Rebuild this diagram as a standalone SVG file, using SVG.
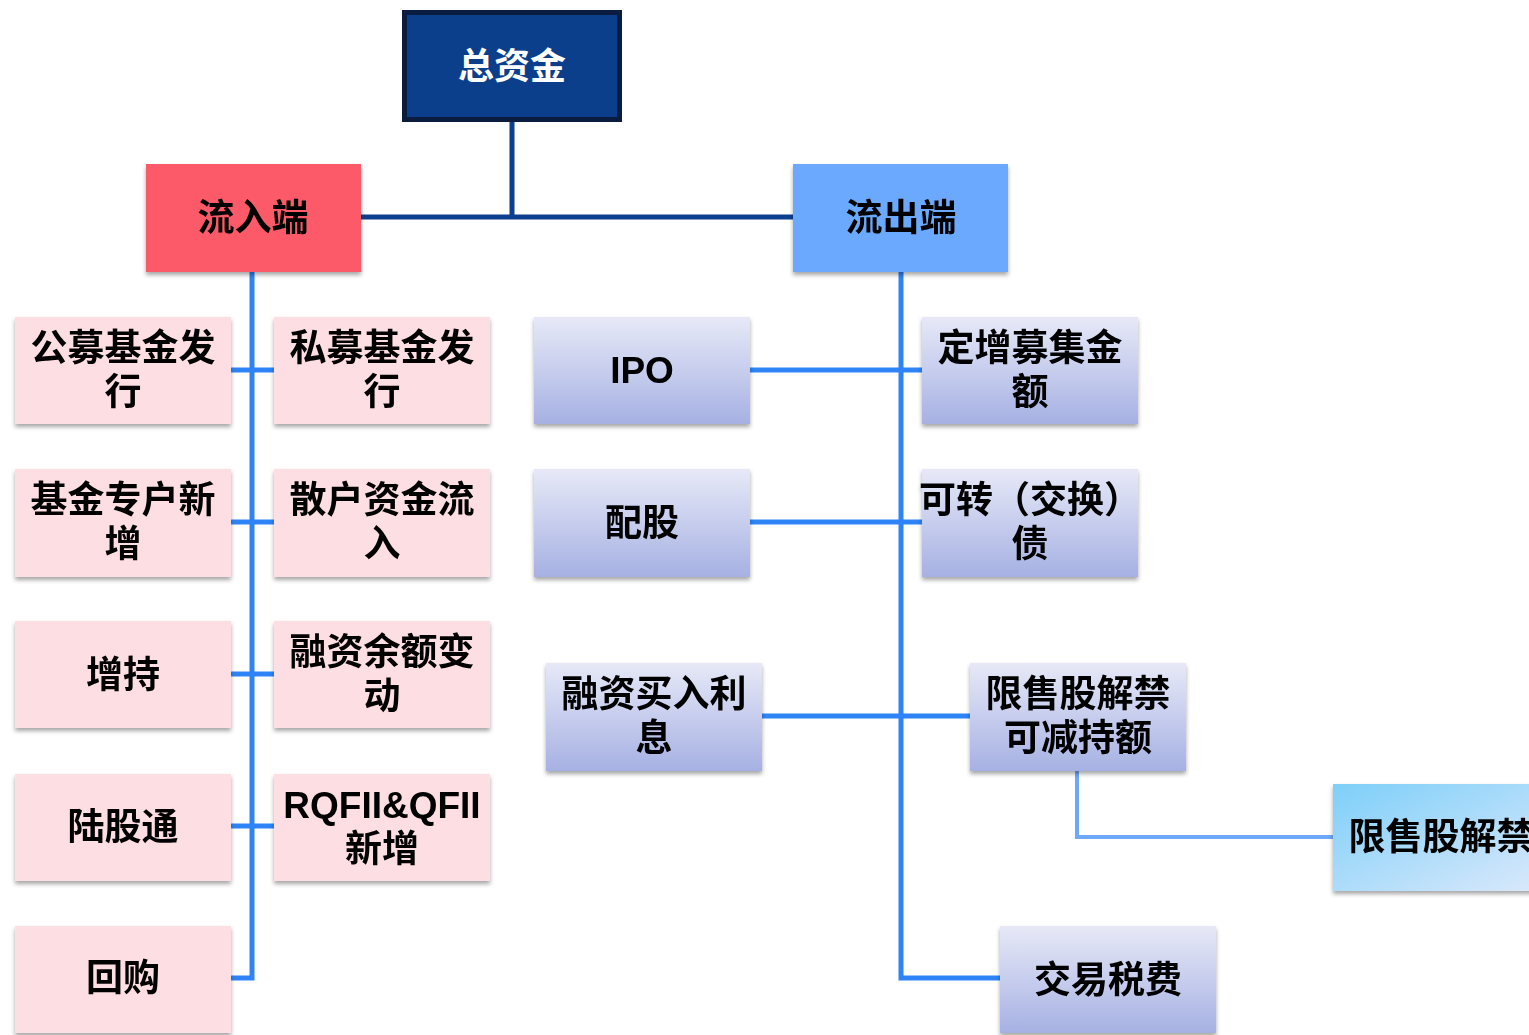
<svg xmlns="http://www.w3.org/2000/svg" width="1529" height="1035" viewBox="0 0 1529 1035">
<style>
.t{font-family:'Liberation Sans','Noto Sans CJK SC',sans-serif;font-weight:bold;font-size:37px;text-anchor:middle;fill:#000}
.w{fill:#fff;font-size:36px}
.pink{fill:#fddee2}
.lav{fill:url(#lav)}
.blue{fill:none;stroke:#2e84f6;stroke-width:5}
.navy{fill:none;stroke:#0e3f8e;stroke-width:5}
</style>
<defs>
<linearGradient id="lav" x1="0" y1="0" x2="0" y2="1">
<stop offset="0" stop-color="#e7e9f7"/>
<stop offset="1" stop-color="#a6b1e3"/>
</linearGradient>
<linearGradient id="sky" x1="0" y1="0" x2="1" y2="1">
<stop offset="0" stop-color="#7ecff9"/>
<stop offset="1" stop-color="#dce9fb"/>
</linearGradient>
<filter id="sh" x="-10%" y="-10%" width="120%" height="130%">
<feDropShadow dx="0" dy="3" stdDeviation="2" flood-color="#000" flood-opacity="0.35"/>
</filter>
</defs>

<g id="connectors">
<path class="navy" d="M512 122 V217 M361 217 H793"/>
<path class="blue" d="M252 272 V978 H231 M231 370 H274 M231 522 H274 M231 674 H274 M231 826 H274"/>
<path class="blue" d="M901 272 V978 H1000 M750 370 H922 M750 522 H922 M762 716 H970"/>
<path d="M1077 771 V837 H1333" fill="none" stroke="#6ea8f8" stroke-width="4"/>
</g>

<g id="total">
<rect x="404.5" y="12.5" width="215" height="107" fill="#0b3f8c" stroke="#0a1c40" stroke-width="5"/>
<text class="t w" x="512" y="79">总资金</text>
</g>

<g id="inflow" filter="url(#sh)">
<rect x="146" y="164" width="215" height="108" fill="#fc5a69"/>
<text class="t" x="253" y="231">流入端</text>
</g>
<g id="outflow" filter="url(#sh)">
<rect x="793" y="164" width="215" height="108" fill="#6aa9fd"/>
<text class="t" x="901" y="231">流出端</text>
</g>

<g id="n1" filter="url(#sh)"><rect class="pink" x="15" y="317" width="216" height="107"/><text class="t" x="123" y="361">公募基金发</text><text class="t" x="123" y="405">行</text></g>
<g id="n2" filter="url(#sh)"><rect class="pink" x="274" y="317" width="216" height="107"/><text class="t" x="382" y="361">私募基金发</text><text class="t" x="382" y="405">行</text></g>
<g id="n3" filter="url(#sh)"><rect class="pink" x="15" y="469" width="216" height="108"/><text class="t" x="123" y="513">基金专户新</text><text class="t" x="123" y="557">增</text></g>
<g id="n4" filter="url(#sh)"><rect class="pink" x="274" y="469" width="216" height="108"/><text class="t" x="382" y="513">散户资金流</text><text class="t" x="382" y="557">入</text></g>
<g id="n5" filter="url(#sh)"><rect class="pink" x="15" y="621" width="216" height="107"/><text class="t" x="123" y="688">增持</text></g>
<g id="n6" filter="url(#sh)"><rect class="pink" x="274" y="621" width="216" height="107"/><text class="t" x="382" y="665">融资余额变</text><text class="t" x="382" y="709">动</text></g>
<g id="n7" filter="url(#sh)"><rect class="pink" x="15" y="774" width="216" height="107"/><text class="t" x="123" y="840">陆股通</text></g>
<g id="n8" filter="url(#sh)"><rect class="pink" x="274" y="774" width="216" height="107"/><text class="t" x="382" y="818">RQFII&amp;QFII</text><text class="t" x="382" y="862">新增</text></g>
<g id="n9" filter="url(#sh)"><rect class="pink" x="15" y="926" width="216" height="107"/><text class="t" x="123" y="991">回购</text></g>

<g id="o1" filter="url(#sh)"><rect class="lav" x="534" y="317" width="216" height="107"/><text class="t" x="642" y="383">IPO</text></g>
<g id="o2" filter="url(#sh)"><rect class="lav" x="922" y="317" width="216" height="107"/><text class="t" x="1030" y="361">定增募集金</text><text class="t" x="1030" y="405">额</text></g>
<g id="o3" filter="url(#sh)"><rect class="lav" x="534" y="469" width="216" height="108"/><text class="t" x="642" y="536">配股</text></g>
<g id="o4" filter="url(#sh)"><rect class="lav" x="922" y="469" width="216" height="108"/><text class="t" x="1030" y="513">可转（交换）</text><text class="t" x="1030" y="557">债</text></g>
<g id="o5" filter="url(#sh)"><rect class="lav" x="546" y="663" width="216" height="108"/><text class="t" x="654" y="707">融资买入利</text><text class="t" x="654" y="751">息</text></g>
<g id="o6" filter="url(#sh)"><rect class="lav" x="970" y="663" width="216" height="108"/><text class="t" x="1078" y="707">限售股解禁</text><text class="t" x="1078" y="751">可减持额</text></g>
<g id="o7" filter="url(#sh)"><rect x="1333" y="784" width="216" height="107" fill="url(#sky)"/><text class="t" x="1441" y="850">限售股解禁</text></g>
<g id="o8" filter="url(#sh)"><rect class="lav" x="1000" y="926" width="216" height="107"/><text class="t" x="1108" y="993">交易税费</text></g>
</svg>
